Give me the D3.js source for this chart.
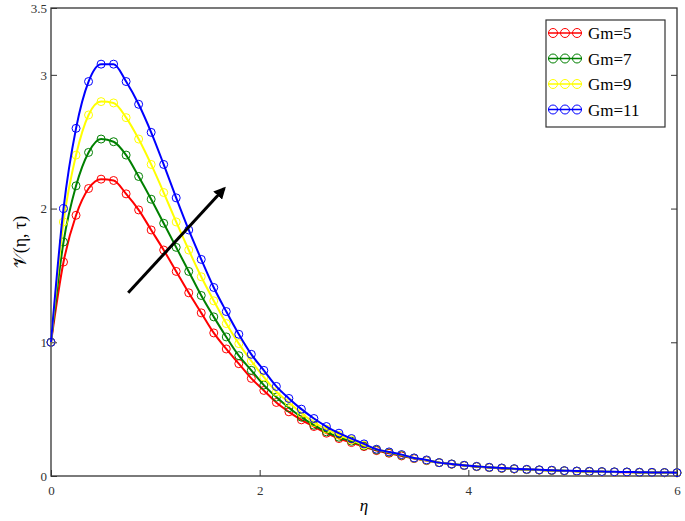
<!DOCTYPE html>
<html><head><meta charset="utf-8">
<script src="https://cdn.jsdelivr.net/npm/d3@7"></script>
<style>body{margin:0;background:#fff}text{font-family:"Liberation Serif","DejaVu Serif",serif}</style>
</head><body><div id="chart"></div>
<script>
var eta = [0,0.12,0.24,0.36,0.48,0.6,0.72,0.84,0.96,1.08,1.2,1.32,1.44,1.56,1.68,1.8,1.92,2.04,2.16,2.28,2.4,2.52,2.64,2.76,2.88,3,3.12,3.24,3.36,3.48,3.6,3.72,3.84,3.96,4.08,4.2,4.32,4.44,4.56,4.68,4.8,4.92,5.04,5.16,5.28,5.4,5.52,5.64,5.76,5.88,6];
var gm5 = [1,1.6,1.95,2.15,2.22,2.21,2.11,1.99,1.84,1.69,1.53,1.37,1.22,1.07,0.95,0.84,0.73,0.64,0.55,0.48,0.42,0.37,0.32,0.28,0.25,0.22,0.19,0.17,0.15,0.13,0.115,0.1,0.088,0.078,0.07,0.063,0.057,0.052,0.048,0.044,0.041,0.038,0.035,0.033,0.031,0.029,0.028,0.027,0.026,0.025,0.024];
var gm7 = [1,1.75,2.17,2.42,2.52,2.5,2.4,2.24,2.07,1.89,1.71,1.53,1.35,1.19,1.04,0.9,0.79,0.68,0.59,0.51,0.44,0.38,0.33,0.29,0.26,0.225,0.195,0.175,0.155,0.133,0.117,0.1,0.089,0.079,0.071,0.064,0.058,0.053,0.048,0.045,0.042,0.039,0.036,0.034,0.032,0.03,0.029,0.027,0.026,0.025,0.024];
var gm9 = [1,1.9,2.4,2.7,2.8,2.79,2.68,2.52,2.33,2.12,1.9,1.69,1.49,1.31,1.14,0.99,0.86,0.74,0.63,0.55,0.47,0.4,0.35,0.305,0.27,0.23,0.2,0.178,0.158,0.134,0.118,0.1,0.09,0.08,0.072,0.065,0.059,0.054,0.049,0.045,0.042,0.039,0.036,0.034,0.032,0.03,0.029,0.028,0.026,0.025,0.024];
var gm11 = [1,2,2.6,2.95,3.08,3.08,2.95,2.78,2.57,2.33,2.08,1.84,1.62,1.41,1.23,1.06,0.91,0.79,0.67,0.58,0.5,0.43,0.37,0.32,0.28,0.24,0.2,0.18,0.16,0.135,0.12,0.1,0.09,0.08,0.072,0.065,0.06,0.055,0.05,0.046,0.043,0.04,0.037,0.035,0.033,0.031,0.03,0.028,0.027,0.026,0.025];
var labels = ["Gm=5","Gm=7","Gm=9","Gm=11"];
var colors = ["#ff0000","#008000","#ffff00","#0000ff"];
var xTicks = [0,2,4,6];
var yTicks = [0,1,2,3,3.5];
var arrowPts = [[0.74,1.37],[1.66,2.15]];

var width = 685, height = 521;
var svg = d3.select("#chart").append("svg").attr("width", width).attr("height", height);
var x = d3.scaleLinear().domain([0,6]).range([51,677]);
var y = d3.scaleLinear().domain([0,3.5]).range([476,8]);

svg.append("rect").attr("x",51).attr("y",8).attr("width",626).attr("height",468)
	.attr("fill","none").attr("stroke","#333").attr("stroke-width",1.3);

svg.append("g").attr("transform","translate(0,476)")
	.call(d3.axisBottom(x).tickValues(xTicks).tickSize(-6).tickPadding(10).tickFormat(d3.format("d")))
	.call(g => g.select(".domain").remove())
	.selectAll("text").attr("font-size",13).attr("fill","#333");
svg.append("g").attr("transform","translate(51,0)")
	.call(d3.axisLeft(y).tickValues(yTicks).tickSize(-6).tickPadding(4).tickFormat(d => d))
	.call(g => g.select(".domain").remove())
	.selectAll("text").attr("font-size",13).attr("fill","#333");
svg.append("g").attr("transform","translate(677,0)")
	.call(d3.axisRight(y).tickValues([1,2,3]).tickSize(-6).tickFormat(""))
	.call(g => g.select(".domain").remove());
svg.selectAll(".tick line").attr("stroke","#333");

var series = [gm5, gm7, gm9, gm11];
var line = d3.line().x((d,i) => x(eta[i])).y(d => y(d)).curve(d3.curveMonotoneX);
series.forEach(function(s, k) {
	svg.append("path").attr("d", line(s)).attr("fill","none").attr("stroke",colors[k]).attr("stroke-width",2);
	svg.append("g").selectAll("circle").data(s).join("circle")
		.attr("cx",(d,i) => x(eta[i])).attr("cy",d => y(d)).attr("r",4)
		.attr("fill","none").attr("stroke",colors[k]).attr("stroke-width",1);
});

svg.append("defs").append("marker").attr("id","ah").attr("viewBox","0 0 10 10")
	.attr("refX",8).attr("refY",5).attr("markerWidth",4).attr("markerHeight",4).attr("orient","auto")
	.append("path").attr("d","M0,0L10,5L0,10z").attr("fill","#000");
svg.append("line").attr("x1",x(arrowPts[0][0])).attr("y1",y(arrowPts[0][1]))
	.attr("x2",x(arrowPts[1][0])).attr("y2",y(arrowPts[1][1]))
	.attr("stroke","#000").attr("stroke-width",3).attr("marker-end","url(#ah)");

var leg = svg.append("g");
leg.append("rect").attr("x",546).attr("y",20).attr("width",119).attr("height",107)
	.attr("fill","#fff").attr("stroke","#333").attr("stroke-width",1.2);
labels.forEach(function(l, k) {
	var ly = 33 + k*25.5;
	leg.append("line").attr("x1",548).attr("x2",582).attr("y1",ly).attr("y2",ly).attr("stroke",colors[k]).attr("stroke-width",1.5);
	[553,565,577].forEach(function(cx){
		leg.append("circle").attr("cx",cx).attr("cy",ly).attr("r",4.5).attr("fill","none").attr("stroke",colors[k]).attr("stroke-width",1);
	});
	leg.append("text").attr("x",588).attr("y",ly+6).attr("font-size",17).text(l);
});

svg.append("text").attr("x",364).attr("y",511).attr("font-size",17).attr("font-style","italic").attr("text-anchor","middle").text("η");
svg.append("text").attr("transform","translate(26,242) rotate(-90)").attr("font-size",18).attr("text-anchor","middle")
	.text("𝒱(η, τ)");
</script></body></html>
